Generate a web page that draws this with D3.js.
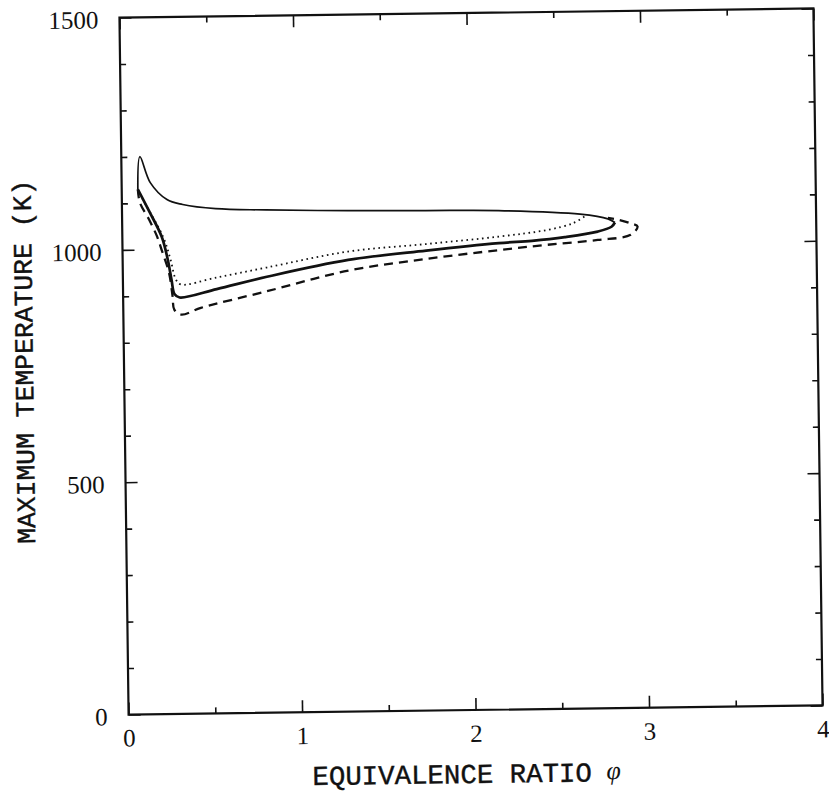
<!DOCTYPE html>
<meta charset="utf-8">
<title>Maximum temperature vs equivalence ratio</title>
<style>
body { margin: 0; background: #fff; }
.tick text { font-family: "Liberation Serif", serif; font-size: 25px; fill: #111; }
.tick line { stroke: #111; stroke-width: 1.6px; }
text.title { font-family: "Liberation Mono", monospace; fill: #111; stroke: #111; stroke-width: 0.4px; }
text.phi { font-family: "Liberation Serif", serif; font-style: italic; font-size: 26px; fill: #111; }
</style>
<script src="https://d3js.org/d3.v7.min.js"></script>
<div id="chart"></div>
<script>

// axis ticks
var xMajor = [0, 1, 2, 3, 4];
var xMinor = [0.5, 1.5, 2.5, 3.5];
var yMajor = [0, 500, 1000, 1500];
var yMinor = [100, 200, 300, 400, 600, 700, 800, 900, 1100, 1200, 1300, 1400];

// upper branch (shared by all three cases)
var upperPhi = [0.093, 0.107, 0.165, 0.26, 0.35, 0.54, 0.83, 1.30, 1.75, 2.17, 2.64, 2.80, 2.84];
var upperT   = [1130, 1200, 1144, 1107, 1096, 1086, 1082, 1078, 1076, 1074, 1064, 1053, 1045];

// lower branches
var solidPhi = [0.093, 0.16, 0.227, 0.26, 0.28, 0.297, 0.326, 0.54, 0.83, 1.30, 1.75, 2.17, 2.36, 2.55, 2.74, 2.82, 2.84];
var solidT   = [1130, 1080, 1027, 978, 935, 903, 896, 913, 938, 972, 990, 1004, 1008, 1015, 1026, 1036, 1045];

var dottedPhi = [0.093, 0.121, 0.235, 0.276, 0.305, 0.333, 0.54, 0.83, 1.30, 1.75, 2.17, 2.45, 2.60, 2.67];
var dottedT   = [1130, 1108, 1027, 978, 935, 924, 938, 958, 990, 1004, 1018, 1031, 1045, 1060];

var dashedPhi = [0.093, 0.104, 0.156, 0.2, 0.228, 0.266, 0.285, 0.294, 0.333, 0.447, 0.83, 1.30, 1.75, 2.17, 2.45, 2.74, 2.93, 2.97, 2.93, 2.86, 2.80];
var dashedT   = [1130, 1101, 1064, 1028, 996, 950, 899, 870, 859, 873, 907, 949, 972, 989, 999, 1008, 1018, 1036, 1043, 1051, 1055];

var margin = {top: 13, left: 124},
    width = 694,
    height = 697;

var svg = d3.select("#chart")
  .append("svg")
    .attr("width", 829)
    .attr("height", 794);

// the scanned figure sits a little tilted
var g = svg.append("g")
    .attr("transform", "rotate(-0.75," + (margin.left + width / 2) + "," + (margin.top + height / 2) + ") translate(" + margin.left + "," + margin.top + ")");

var x = d3.scaleLinear().domain([0, 4]).range([0, width]);
var y = d3.scaleLinear().domain([0, 1500]).range([height, 0]);

function clean(sel) { sel.select(".domain").remove(); }

// bottom
g.append("g")
    .attr("transform", "translate(0," + height + ")")
    .call(d3.axisBottom(x).tickValues(xMajor).tickSize(-12).tickFormat(d3.format("d")))
    .call(clean)
    .selectAll("text").attr("y", 32).attr("dy", null);
g.append("g")
    .attr("transform", "translate(0," + height + ")")
    .call(d3.axisBottom(x).tickValues(xMinor).tickSize(-6).tickFormat(""))
    .call(clean);
// top
g.append("g")
    .call(d3.axisTop(x).tickValues(xMajor).tickSize(-12).tickFormat(""))
    .call(clean);
g.append("g")
    .call(d3.axisTop(x).tickValues(xMinor).tickSize(-6).tickFormat(""))
    .call(clean);
// left
g.append("g")
    .call(d3.axisLeft(y).tickValues(yMajor).tickSize(-12).tickPadding(21).tickFormat(d3.format("d")))
    .call(clean)
    .selectAll("text").attr("dy", "0.4em");
g.append("g")
    .call(d3.axisLeft(y).tickValues(yMinor).tickSize(-6).tickFormat(""))
    .call(clean);
// right
g.append("g")
    .attr("transform", "translate(" + width + ",0)")
    .call(d3.axisRight(y).tickValues(yMajor).tickSize(-12).tickFormat(""))
    .call(clean);
g.append("g")
    .attr("transform", "translate(" + width + ",0)")
    .call(d3.axisRight(y).tickValues(yMinor).tickSize(-6).tickFormat(""))
    .call(clean);

g.append("rect")
    .attr("width", width)
    .attr("height", height)
    .attr("fill", "none")
    .attr("stroke", "#111")
    .attr("stroke-width", 2.2);

var line = d3.line()
    .x(function(d) { return x(d[0]); })
    .y(function(d) { return y(d[1]); })
    .curve(d3.curveCatmullRom.alpha(0.5));

g.append("path")
    .datum(d3.zip(upperPhi, upperT))
    .attr("d", line)
    .attr("fill", "none")
    .attr("stroke", "#111")
    .attr("stroke-width", 1.7);

g.append("path")
    .datum(d3.zip(solidPhi, solidT))
    .attr("d", line)
    .attr("fill", "none")
    .attr("stroke", "#111")
    .attr("stroke-width", 2.7);

g.append("path")
    .datum(d3.zip(dottedPhi, dottedT))
    .attr("d", line)
    .attr("fill", "none")
    .attr("stroke", "#111")
    .attr("stroke-width", 1.8)
    .attr("stroke-dasharray", "1.6,3.6");

g.append("path")
    .datum(d3.zip(dashedPhi, dashedT))
    .attr("d", line)
    .attr("fill", "none")
    .attr("stroke", "#111")
    .attr("stroke-width", 2.3)
    .attr("stroke-dasharray", "9,6");

// axis titles
g.append("text")
    .attr("class", "title")
    .attr("x", 183)
    .attr("y", height + 73)
    .style("font-size", "27.4px")
    .text("EQUIVALENCE RATIO");
g.append("text")
    .attr("class", "phi")
    .attr("x", 477)
    .attr("y", height + 71)
    .text("φ");

g.append("text")
    .attr("class", "title")
    .attr("transform", "translate(-91," + 343 + ") rotate(-90)")
    .attr("text-anchor", "middle")
    .style("font-size", "26.4px")
    .text("MAXIMUM TEMPERATURE (K)");

</script>
